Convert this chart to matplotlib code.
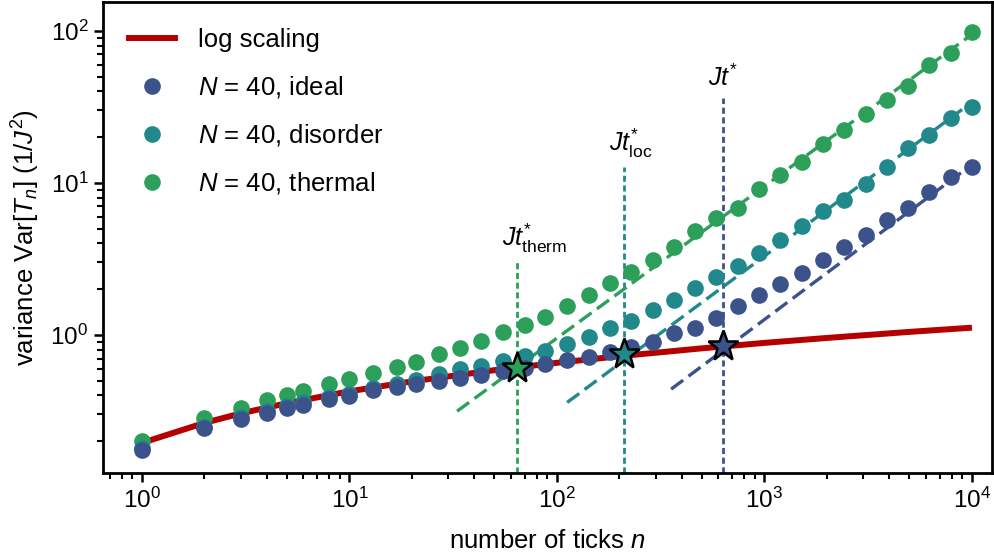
import matplotlib
matplotlib.use("Agg")
import matplotlib.pyplot as plt
from matplotlib.lines import Line2D
from matplotlib.ticker import LogLocator, NullFormatter

plt.rcParams['font.family'] = ['Liberation Sans', 'DejaVu Sans']
plt.rcParams['mathtext.fontset'] = 'custom'
plt.rcParams['mathtext.rm'] = 'Liberation Sans'
plt.rcParams['mathtext.it'] = 'Liberation Sans:italic'
plt.rcParams['mathtext.bf'] = 'Liberation Sans:bold'

# ---------------- data ----------------
n_ticks = [1, 2, 3, 4, 5, 6, 8, 10, 13, 17, 21, 27, 34, 43, 55, 70, 88, 112, 142,
           180, 228, 289, 366, 464, 587, 744, 942, 1193, 1511, 1914, 2424, 3070,
           3888, 4924, 6235, 7896, 10000]

var_ideal = [0.175, 0.243, 0.279, 0.305, 0.329, 0.346, 0.377, 0.397, 0.435, 0.453,
             0.474, 0.500, 0.525, 0.545, 0.578, 0.602, 0.640, 0.685, 0.720, 0.776,
             0.838, 0.904, 1.03, 1.11, 1.29, 1.55, 1.82, 2.16, 2.55, 3.12, 3.81,
             4.55, 5.71, 6.82, 8.77, 11.0, 12.8]

var_disorder = [0.180, 0.248, 0.287, 0.315, 0.340, 0.360, 0.390, 0.410, 0.450, 0.475,
                0.506, 0.554, 0.595, 0.627, 0.671, 0.730, 0.780, 0.873, 0.966, 1.11,
                1.24, 1.46, 1.70, 2.03, 2.41, 2.83, 3.45, 4.24, 5.18, 6.50, 7.73,
                9.9, 12.8, 16.9, 20.8, 26.7, 31.8]

var_thermal = [0.201, 0.283, 0.333, 0.373, 0.403, 0.430, 0.474, 0.511, 0.560, 0.613,
               0.668, 0.750, 0.820, 0.918, 1.04, 1.17, 1.32, 1.55, 1.84, 2.19,
               2.61, 3.11, 3.78, 4.85, 5.86, 6.82, 9.09, 11.2, 13.7, 18.1, 22.3,
               28.3, 35.2, 43.5, 59.8, 71.3, 98.0]

err_ideal = [0]*34 + [0.3, 0.4, 0.5]
err_disorder = [0]*34 + [0.8, 1.2, 2.0]
err_thermal = [0]*34 + [3.0, 4.0, 7.0]

# log-scaling curve
n_log = [1, 2, 3, 5, 10, 20, 50, 100, 200, 500, 1000, 2000, 5000, 10000]
var_log = [0.195, 0.264, 0.305, 0.356, 0.426, 0.495, 0.587, 0.656, 0.725, 0.817,
           0.887, 0.956, 1.048, 1.117]

# linear asymptotes (start/end points)
fit_thermal_n = [33, 10000]
fit_thermal_v = [0.315, 95.0]
fit_disorder_n = [112, 10000]
fit_disorder_v = [0.36, 34.0]
fit_ideal_n = [355, 10000]
fit_ideal_v = [0.44, 13.2]

# crossover times
t_therm, t_loc, t_star = 64, 210, 630
v_therm, v_loc, v_star = 0.61, 0.745, 0.85
top_therm, top_loc, top_star = 3.0, 12.7, 36.0

# ---------------- style ----------------
c_red = '#b50000'
c_blue = '#3b528b'
c_teal = '#21898b'
c_green = '#2ca05a'

fig = plt.figure(figsize=(9.95, 5.53), dpi=100)
ax = fig.add_axes([103/995, 1-473/553, 889/995, 471/553])
ax.set_xscale('log')
ax.set_yscale('log')
ax.set_xlim(0.649, 12490)
ax.set_ylim(0.1236, 155)

# vertical dashed lines
vdash = (2.2, 1.3)
for tx, top, col in [(t_therm, top_therm, c_green), (t_loc, top_loc, c_teal), (t_star, top_star, c_blue)]:
    ax.plot([tx, tx], [0.1236, top], color=col, lw=2.0, dashes=vdash, zorder=1)

# asymptotes
fdash = (4.5, 2.0)
ax.plot(fit_thermal_n, fit_thermal_v, color=c_green, lw=2.4, dashes=fdash, zorder=2)
ax.plot(fit_disorder_n, fit_disorder_v, color=c_teal, lw=2.4, dashes=fdash, zorder=2)
ax.plot(fit_ideal_n, fit_ideal_v, color=c_blue, lw=2.4, dashes=fdash, zorder=2)

# log scaling
ax.plot(n_log, var_log, color=c_red, lw=4.3, zorder=3, solid_capstyle='butt')

ms = 12
for v, e, col, z in [(var_thermal, err_thermal, c_green, 4), (var_disorder, err_disorder, c_teal, 5), (var_ideal, err_ideal, c_blue, 6)]:
    ax.errorbar(n_ticks, v, yerr=e, fmt='o', color=col, ms=ms, mec='none',
                elinewidth=2, capsize=0, zorder=z)

for tx, tv, col in [(t_therm, v_therm, c_green), (t_loc, v_loc, c_teal), (t_star, v_star, c_blue)]:
    ax.plot([tx], [tv], marker='*', ms=23, color=col, mec='black', mew=1.8, zorder=10)

# labels of crossover lines
ax.annotate(r'$Jt^{*}_{\mathrm{therm}}$', xy=(t_therm, top_therm), xytext=(13, 5),
            textcoords='offset points', ha='center', va='bottom', fontsize=18)
ax.annotate(r'$Jt^{*}_{\mathrm{loc}}$', xy=(t_loc, top_loc), xytext=(5, 5),
            textcoords='offset points', ha='center', va='bottom', fontsize=18)
ax.annotate(r'$Jt^{*}$', xy=(t_star, top_star), xytext=(0, 5),
            textcoords='offset points', ha='center', va='bottom', fontsize=18)

# axes styling
for s in ax.spines.values():
    s.set_linewidth(2.0)
ax.tick_params(which='major', direction='out', length=6.5, width=1.8, labelsize=17.5, pad=4)
ax.tick_params(which='minor', direction='out', length=4, width=1.5)
ax.xaxis.set_major_locator(LogLocator(base=10, numticks=10))
ax.xaxis.set_minor_locator(LogLocator(base=10, subs=range(2, 10), numticks=20))
ax.xaxis.set_minor_formatter(NullFormatter())
ax.yaxis.set_major_locator(LogLocator(base=10, numticks=10))
ax.yaxis.set_minor_locator(LogLocator(base=10, subs=range(2, 10), numticks=20))
ax.yaxis.set_minor_formatter(NullFormatter())

ax.set_xlabel(r'number of ticks $n$', fontsize=18.5, labelpad=12)
ax.set_ylabel(r'variance Var[$T_n$] (1/$J^2$)', fontsize=18.5, labelpad=6)

handles = [Line2D([], [], color=c_red, lw=4.3),
           Line2D([], [], marker='o', ls='none', color=c_blue, ms=ms, mec='none'),
           Line2D([], [], marker='o', ls='none', color=c_teal, ms=ms, mec='none'),
           Line2D([], [], marker='o', ls='none', color=c_green, ms=ms, mec='none')]
labels = ['log scaling', r'$N$ = 40, ideal', r'$N$ = 40, disorder', r'$N$ = 40, thermal']
ax.legend(handles, labels, loc='upper left', bbox_to_anchor=((129-103)/889, 1-(28-2)/471),
          borderaxespad=0, borderpad=0, frameon=False, fontsize=18.5,
          handlelength=1.8, handletextpad=0.9, labelspacing=0.86)

fig.savefig('out.png', dpi=100)
